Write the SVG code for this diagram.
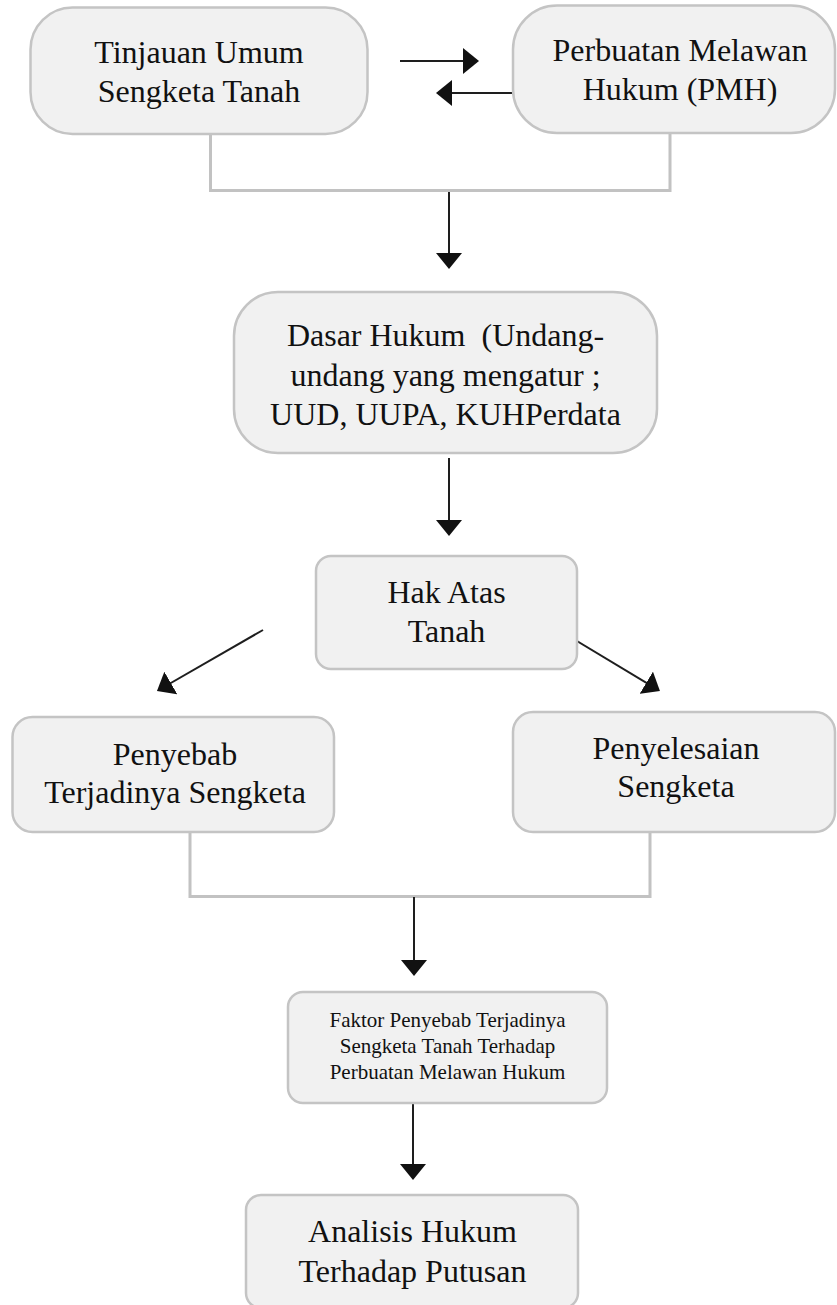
<svg xmlns="http://www.w3.org/2000/svg" width="837" height="1305" viewBox="0 0 837 1305">
<style>
.box{fill:#f1f1f1;stroke:#c4c4c4;stroke-width:2.5}
.t{font-family:"Liberation Serif","Times New Roman",serif;font-size:32px;fill:#111;text-anchor:middle}
.ts{font-family:"Liberation Serif","Times New Roman",serif;font-size:21px;fill:#111;text-anchor:middle}
.br{fill:none;stroke:#c2c2c2;stroke-width:3}
.ar{fill:none;stroke:#1e1e1e;stroke-width:2;marker-end:url(#ah)}
</style>
<defs>
<marker id="ah" viewBox="0 0 16 26" refX="8" refY="13" markerWidth="16" markerHeight="26" markerUnits="userSpaceOnUse" orient="auto">
<path d="M0,0 L16,13 L0,26 Z" fill="#111"/>
</marker>
</defs>
<rect width="837" height="1305" fill="#fff"/>
<g id="connectors">
<line class="ar" x1="400" y1="61" x2="471" y2="61"/>
<line class="ar" x1="513" y1="93" x2="444" y2="93"/>
<path class="br" d="M210.5,134 V190.5 H670 V133"/>
<line class="ar" x1="449" y1="192" x2="449" y2="261"/>
<line class="ar" x1="449" y1="458" x2="449" y2="528"/>
<line class="ar" x1="263" y1="630" x2="163.9" y2="687"/>
<line class="ar" x1="552" y1="626" x2="653.1" y2="686.9"/>
<path class="br" d="M190,832 V896.5 H650 V832"/>
<line class="ar" x1="414" y1="897" x2="414" y2="968"/>
<line class="ar" x1="413" y1="1103" x2="413" y2="1172"/>
</g>
<g id="n1">
<rect class="box" x="30.5" y="7.5" width="337" height="126.5" rx="42" ry="42"/>
<text class="t" x="199" y="63">Tinjauan Umum</text>
<text class="t" x="199" y="102">Sengketa Tanah</text>
</g>
<g id="n2">
<rect class="box" x="513" y="5.5" width="322" height="127.5" rx="44" ry="44"/>
<text class="t" x="680" y="60.5">Perbuatan Melawan</text>
<text class="t" x="680" y="99.5">Hukum (PMH)</text>
</g>
<g id="n3">
<rect class="box" x="234" y="292" width="423" height="161" rx="44" ry="44"/>
<text class="t" x="445.5" y="346" xml:space="preserve">Dasar Hukum  (Undang-</text>
<text class="t" x="445.5" y="386">undang yang mengatur ;</text>
<text class="t" x="445.5" y="425">UUD, UUPA, KUHPerdata</text>
</g>
<g id="n4">
<rect class="box" x="316" y="556" width="261" height="113" rx="15" ry="15"/>
<text class="t" x="446.5" y="603">Hak Atas</text>
<text class="t" x="446.5" y="642">Tanah</text>
</g>
<g id="n5">
<rect class="box" x="12.5" y="717" width="321.5" height="115" rx="20" ry="20"/>
<text class="t" x="175" y="765">Penyebab</text>
<text class="t" x="175" y="803">Terjadinya Sengketa</text>
</g>
<g id="n6">
<rect class="box" x="513" y="712" width="322" height="120" rx="20" ry="20"/>
<text class="t" x="676" y="759">Penyelesaian</text>
<text class="t" x="676" y="797">Sengketa</text>
</g>
<g id="n7">
<rect class="box" x="288" y="992" width="319" height="111" rx="15" ry="15"/>
<text class="ts" x="447.5" y="1027">Faktor Penyebab Terjadinya</text>
<text class="ts" x="447.5" y="1053">Sengketa Tanah Terhadap</text>
<text class="ts" x="447.5" y="1079">Perbuatan Melawan Hukum</text>
</g>
<g id="n8">
<rect class="box" x="246" y="1195" width="332" height="113" rx="15" ry="15"/>
<text class="t" x="412.5" y="1242">Analisis Hukum</text>
<text class="t" x="412.5" y="1282">Terhadap Putusan</text>
</g>
</svg>
